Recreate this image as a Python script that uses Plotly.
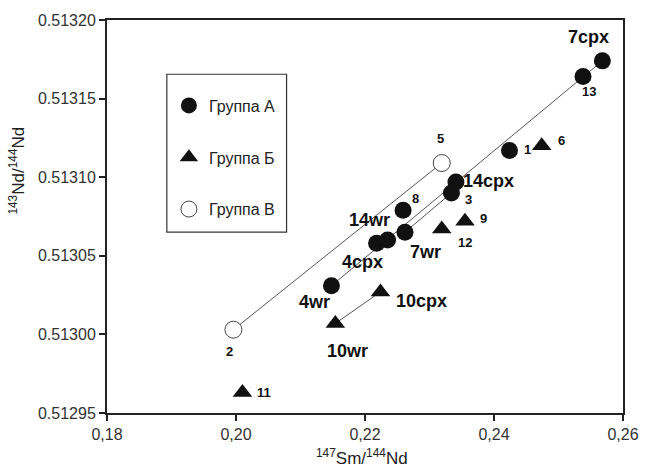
import plotly.graph_objects as go

# ---- data ----
a_names = ["7cpx", "13", "1", "14cpx", "3", "8", "7wr", "4cpx", "14wr", "4wr"]
a_x = [0.2568, 0.2538, 0.2424, 0.2341, 0.2334, 0.2259, 0.2262, 0.2218, 0.2235, 0.2148]
a_y = [0.513174, 0.513164, 0.513117, 0.513097, 0.513090, 0.513079, 0.513065, 0.513058, 0.513060, 0.513031]

b_names = ["6", "12", "9", "10cpx", "10wr", "11"]
b_x = [0.2474, 0.2319, 0.2355, 0.2224, 0.2154, 0.2010]
b_y = [0.513120, 0.513067, 0.513072, 0.513027, 0.513007, 0.512963]

c_names = ["5", "2"]
c_x = [0.2319, 0.1996]
c_y = [0.513109, 0.513003]

group_names = ["Группа А", "Группа Б", "Группа В"]

# isochron lines: pairs of sample names
line_pairs = [("2", "5"), ("4wr", "7cpx"), ("7wr", "3"), ("10wr", "10cpx")]

x_ticks = [0.18, 0.20, 0.22, 0.24, 0.26]
x_ticktext = ["0,18", "0,20", "0,22", "0,24", "0,26"]
y_ticks = [0.51295, 0.51300, 0.51305, 0.51310, 0.51315, 0.51320]
y_ticktext = ["0.51295", "0.51300", "0.51305", "0.51310", "0.51315", "0.51320"]

# ---- label styling (pixel offsets from point) ----
big_labels = {"7cpx", "14cpx", "14wr", "7wr", "4cpx", "4wr", "10cpx", "10wr"}
label_offsets = {
    "7cpx": (-14, 24), "13": (6, -15), "1": (18, 1), "14cpx": (33, 1), "3": (17, -7),
    "8": (12, 12), "14wr": (-18, 20), "7wr": (21, -20), "4cpx": (-14, -19), "4wr": (-17, -16),
    "6": (20, 5), "12": (23, -13), "9": (19, 3), "10cpx": (41, -9), "10wr": (12, -28),
    "11": (22, 0), "5": (-1, 25), "2": (-4, -22),
}

pts = {}
for n, x, y in zip(a_names, a_x, a_y):
    pts[n] = (x, y)
for n, x, y in zip(b_names, b_x, b_y):
    pts[n] = (x, y)
for n, x, y in zip(c_names, c_x, c_y):
    pts[n] = (x, y)

fig = go.Figure()

for p, q in line_pairs:
    fig.add_trace(go.Scatter(
        x=[pts[p][0], pts[q][0]], y=[pts[p][1], pts[q][1]],
        mode="lines", line=dict(color="#555555", width=1),
        showlegend=False, hoverinfo="skip"))

fig.add_trace(go.Scatter(
    x=a_x, y=a_y, mode="markers", name=group_names[0], legendgroup="a",
    marker=dict(symbol="circle", size=17, color="#111111", line=dict(width=0))))
fig.add_trace(go.Scatter(
    x=b_x, y=b_y, mode="markers", name=group_names[1], legendgroup="b",
    marker=dict(symbol="triangle-up", size=17, color="#111111", line=dict(width=0))))
fig.add_trace(go.Scatter(
    x=c_x, y=c_y, mode="markers", name=group_names[2], legendgroup="c",
    marker=dict(symbol="circle", size=17, color="white", line=dict(width=1, color="#444444"))))

for n, (x, y) in pts.items():
    dx, dy = label_offsets[n]
    big = n in big_labels
    fig.add_annotation(
        x=x, y=y, text=n, showarrow=False, xshift=dx, yshift=dy,
        xanchor="center", yanchor="middle",
        font=dict(family="Liberation Sans, Arial", size=18 if big else 13,
                  color="#111111", weight="bold"))

fig.add_annotation(
    xref="paper", yref="paper", x=-0.175, y=0.616, textangle=-90,
    xanchor="center", yanchor="middle",
    text="<sup>143</sup>Nd/<sup>144</sup>Nd", showarrow=False,
    font=dict(family="Liberation Sans, Arial", size=17, color="#222222"))
fig.add_annotation(
    xref="paper", yref="paper", x=0.494, y=-0.113,
    xanchor="center", yanchor="middle",
    text="<sup>147</sup>Sm/<sup>144</sup>Nd", showarrow=False,
    font=dict(family="Liberation Sans, Arial", size=17, color="#222222"))

# legend frame
fig.add_shape(type="rect", xref="paper", yref="paper",
              x0=0.116, x1=0.348, y0=0.460, y1=0.862,
              line=dict(color="#333333", width=1.2), fillcolor="white", layer="below")

axis_common = dict(
    showline=True, linecolor="#222222", linewidth=2, mirror=True,
    ticks="outside", ticklen=6, tickwidth=1.5, tickcolor="#222222",
    showgrid=False, zeroline=False,
    tickfont=dict(family="Liberation Sans, Arial", size=16, color="#333333"),
)

fig.update_xaxes(range=[0.18, 0.26], tickvals=x_ticks, ticktext=x_ticktext, **axis_common)
fig.update_yaxes(range=[0.51295, 0.51320], tickvals=y_ticks, ticktext=y_ticktext, **axis_common)

fig.update_layout(
    width=651, height=470,
    margin=dict(l=107, r=18, t=15, b=57),
    plot_bgcolor="white", paper_bgcolor="white",
    legend=dict(
        x=0.120, y=0.852, xanchor="left", yanchor="top",
        borderwidth=0, bgcolor="rgba(0,0,0,0)",
        font=dict(family="Liberation Sans, Arial", size=16, color="#222222"),
        traceorder="grouped", tracegroupgap=28,
        title=dict(text=" ", font=dict(size=8)),
    ),
)

fig.write_html(
    "out.html",
    config={"displayModeBar": False},
    post_script="document.body.style.margin='0px';document.body.style.overflow='hidden';",
)
